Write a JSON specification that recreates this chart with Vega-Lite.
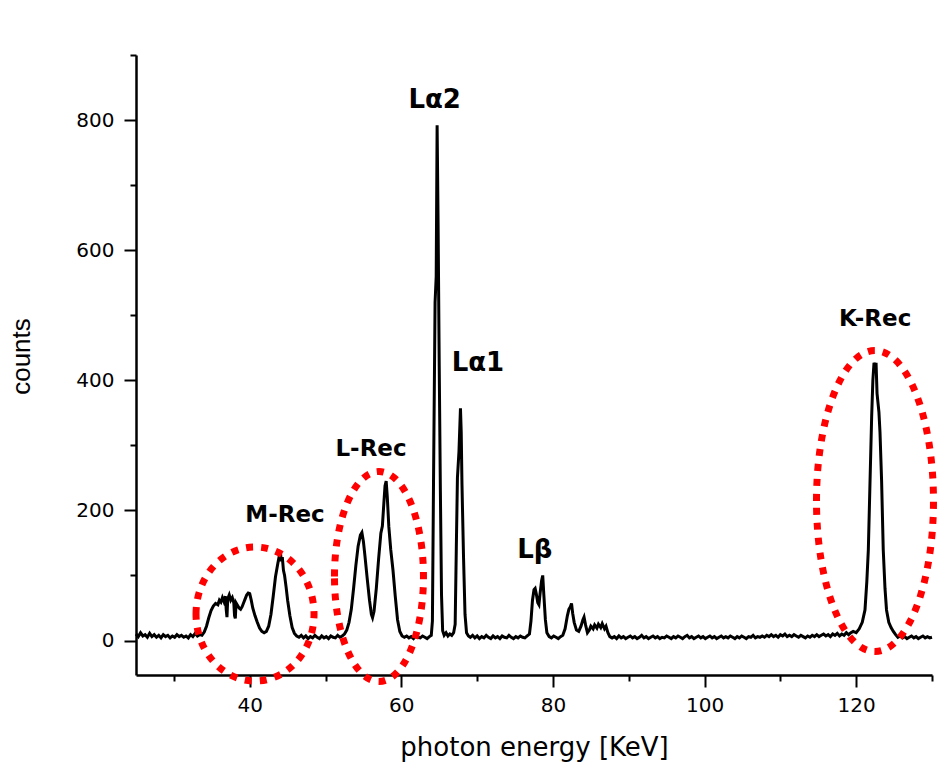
{
  "$schema": "https://vega.github.io/schema/vega-lite/v6.json",
  "width": 796,
  "height": 620,
  "autosize": {"type": "none"},
  "padding": {"left": 136, "top": 55, "right": 5, "bottom": 91},
  "background": "white",
  "config": {"view": {"stroke": null}},
  "datasets": {
    "spectrum": [
      {"x":25.0,"y":10},{"x":25.3,"y":6},{"x":25.6,"y":12},{"x":25.9,"y":7},{"x":26.2,"y":9},{"x":26.5,"y":5},{"x":26.8,"y":11},{"x":27.1,"y":6},{"x":27.4,"y":9},{"x":27.7,"y":5},{"x":28.0,"y":8},{"x":28.3,"y":4},{"x":28.6,"y":9},{"x":28.9,"y":6},{"x":29.2,"y":8},{"x":29.5,"y":4},{"x":29.8,"y":7},{"x":30.1,"y":5},{"x":30.4,"y":9},{"x":30.7,"y":6},{"x":31.0,"y":8},{"x":31.3,"y":5},{"x":31.6,"y":7},{"x":31.9,"y":4},{"x":32.2,"y":9},{"x":32.5,"y":6},{"x":32.8,"y":11},{"x":33.1,"y":7},{"x":33.4,"y":9},{"x":33.7,"y":8},{"x":34.0,"y":13},
      {"x":34.3,"y":22},{"x":34.6,"y":35},{"x":34.9,"y":46},{"x":35.2,"y":53},{"x":35.5,"y":57},{"x":35.8,"y":55},{"x":36.0,"y":62},{"x":36.2,"y":59},{"x":36.4,"y":66},{"x":36.6,"y":60},{"x":36.8,"y":68},{"x":36.9,"y":48},{"x":37.0,"y":36},{"x":37.1,"y":64},{"x":37.3,"y":70},{"x":37.5,"y":62},{"x":37.7,"y":66},{"x":37.9,"y":58},{"x":38.0,"y":38},{"x":38.1,"y":34},{"x":38.2,"y":58},{"x":38.4,"y":54},{"x":38.6,"y":50},{"x":38.8,"y":48},{"x":39.0,"y":52},{"x":39.2,"y":58},{"x":39.4,"y":64},{"x":39.6,"y":70},{"x":39.8,"y":73},{"x":40.0,"y":72},{"x":40.2,"y":62},{"x":40.4,"y":50},{"x":40.7,"y":38},{"x":41.0,"y":28},{"x":41.3,"y":19},{"x":41.6,"y":14},{"x":41.9,"y":12},{"x":42.2,"y":14},{"x":42.5,"y":22},{"x":42.8,"y":40},{"x":43.1,"y":68},{"x":43.4,"y":98},{"x":43.7,"y":118},{"x":43.9,"y":130},{"x":44.05,"y":137},{"x":44.15,"y":122},{"x":44.3,"y":128},{"x":44.45,"y":108},{"x":44.6,"y":100},{"x":44.8,"y":82},{"x":45.0,"y":62},{"x":45.3,"y":38},{"x":45.6,"y":20},{"x":45.9,"y":11},{"x":46.2,"y":7},
      {"x":46.5,"y":5},{"x":46.8,"y":8},{"x":47.1,"y":4},{"x":47.4,"y":7},{"x":47.7,"y":3},{"x":48.0,"y":6},{"x":48.3,"y":4},{"x":48.6,"y":8},{"x":48.9,"y":5},{"x":49.2,"y":3},{"x":49.5,"y":7},{"x":49.8,"y":4},{"x":50.1,"y":6},{"x":50.4,"y":3},{"x":50.7,"y":7},{"x":51.0,"y":5},{"x":51.3,"y":4},{"x":51.6,"y":8},{"x":51.9,"y":5},{"x":52.2,"y":7},{"x":52.5,"y":10},
      {"x":52.8,"y":16},{"x":53.1,"y":28},{"x":53.4,"y":48},{"x":53.7,"y":80},{"x":54.0,"y":115},{"x":54.3,"y":145},{"x":54.6,"y":162},{"x":54.8,"y":166},{"x":55.0,"y":152},{"x":55.2,"y":130},{"x":55.5,"y":95},{"x":55.8,"y":62},{"x":56.05,"y":40},{"x":56.2,"y":35},{"x":56.4,"y":45},{"x":56.7,"y":80},{"x":57.0,"y":125},{"x":57.3,"y":165},{"x":57.5,"y":176},{"x":57.7,"y":212},{"x":57.85,"y":238},{"x":58.0,"y":245},{"x":58.15,"y":220},{"x":58.35,"y":175},{"x":58.6,"y":140},{"x":58.9,"y":108},{"x":59.2,"y":68},{"x":59.5,"y":32},{"x":59.8,"y":14},{"x":60.1,"y":7},{"x":60.4,"y":5},
      {"x":60.7,"y":7},{"x":61.0,"y":4},{"x":61.3,"y":6},{"x":61.6,"y":3},{"x":61.9,"y":7},{"x":62.2,"y":5},{"x":62.5,"y":4},{"x":62.8,"y":7},{"x":63.1,"y":5},{"x":63.4,"y":3},{"x":63.7,"y":6},{"x":63.95,"y":8},
      {"x":64.1,"y":30},{"x":64.25,"y":250},{"x":64.45,"y":520},{"x":64.6,"y":560},{"x":64.72,"y":792},{"x":64.85,"y":640},{"x":65.0,"y":420},{"x":65.15,"y":230},{"x":65.3,"y":70},{"x":65.45,"y":15},{"x":65.65,"y":8},{"x":65.9,"y":12},{"x":66.15,"y":7},{"x":66.4,"y":10},{"x":66.65,"y":8},{"x":66.9,"y":12},{"x":67.1,"y":25},
      {"x":67.25,"y":140},{"x":67.4,"y":250},{"x":67.6,"y":290},{"x":67.8,"y":357},{"x":67.9,"y":320},{"x":68.0,"y":240},{"x":68.2,"y":130},{"x":68.4,"y":40},{"x":68.6,"y":12},{"x":68.85,"y":7},
      {"x":69.1,"y":5},{"x":69.4,"y":8},{"x":69.7,"y":4},{"x":70.0,"y":7},{"x":70.3,"y":3},{"x":70.6,"y":6},{"x":70.9,"y":4},{"x":71.2,"y":8},{"x":71.5,"y":5},{"x":71.8,"y":3},{"x":72.1,"y":7},{"x":72.4,"y":4},{"x":72.7,"y":6},{"x":73.0,"y":3},{"x":73.3,"y":7},{"x":73.6,"y":5},{"x":73.9,"y":4},{"x":74.2,"y":8},{"x":74.5,"y":5},{"x":74.8,"y":3},{"x":75.1,"y":6},{"x":75.4,"y":4},{"x":75.7,"y":7},{"x":76.0,"y":5},{"x":76.3,"y":4},{"x":76.6,"y":7},{"x":76.9,"y":10},
      {"x":77.1,"y":30},{"x":77.3,"y":62},{"x":77.5,"y":78},{"x":77.65,"y":80},{"x":77.8,"y":72},{"x":78.0,"y":58},{"x":78.15,"y":55},{"x":78.3,"y":72},{"x":78.5,"y":92},{"x":78.65,"y":100},{"x":78.8,"y":70},{"x":79.0,"y":32},{"x":79.2,"y":12},{"x":79.5,"y":6},{"x":79.8,"y":4},{"x":80.1,"y":7},{"x":80.4,"y":5},{"x":80.7,"y":3},{"x":81.0,"y":6},{"x":81.3,"y":8},{"x":81.6,"y":18},{"x":81.9,"y":38},{"x":82.1,"y":48},{"x":82.3,"y":52},{"x":82.45,"y":57},{"x":82.6,"y":42},{"x":82.8,"y":28},{"x":83.1,"y":16},{"x":83.4,"y":14},{"x":83.7,"y":22},{"x":83.95,"y":32},{"x":84.1,"y":36},{"x":84.3,"y":24},{"x":84.55,"y":12},{"x":84.8,"y":16},{"x":85.0,"y":22},{"x":85.3,"y":18},{"x":85.5,"y":24},{"x":85.8,"y":19},{"x":86.0,"y":25},{"x":86.3,"y":20},{"x":86.5,"y":26},{"x":86.8,"y":18},{"x":87.0,"y":22},{"x":87.25,"y":12},{"x":87.5,"y":6},{"x":87.8,"y":4},
      {"x":88.1,"y":6},{"x":88.4,"y":3},{"x":88.7,"y":7},{"x":89.0,"y":4},{"x":89.3,"y":6},{"x":89.6,"y":3},{"x":89.9,"y":5},{"x":90.2,"y":7},{"x":90.5,"y":4},{"x":90.8,"y":6},{"x":91.1,"y":3},{"x":91.4,"y":5},{"x":91.7,"y":8},{"x":92.0,"y":4},{"x":92.3,"y":6},{"x":92.6,"y":3},{"x":92.9,"y":5},{"x":93.2,"y":7},{"x":93.5,"y":4},{"x":93.8,"y":6},{"x":94.1,"y":3},{"x":94.4,"y":5},{"x":94.7,"y":4},{"x":95.0,"y":7},{"x":95.3,"y":5},{"x":95.6,"y":3},{"x":95.9,"y":6},{"x":96.2,"y":4},{"x":96.5,"y":7},{"x":96.8,"y":5},{"x":97.1,"y":3},{"x":97.4,"y":6},{"x":97.7,"y":8},{"x":98.0,"y":4},{"x":98.3,"y":6},{"x":98.6,"y":3},{"x":98.9,"y":5},{"x":99.2,"y":7},{"x":99.5,"y":4},{"x":99.8,"y":6},{"x":100.1,"y":3},{"x":100.4,"y":5},{"x":100.7,"y":7},{"x":101.0,"y":4},{"x":101.3,"y":6},{"x":101.6,"y":3},{"x":101.9,"y":5},{"x":102.2,"y":7},{"x":102.5,"y":4},{"x":102.8,"y":6},{"x":103.1,"y":4},{"x":103.4,"y":7},{"x":103.7,"y":5},{"x":104.0,"y":3},{"x":104.3,"y":6},{"x":104.6,"y":4},{"x":104.9,"y":7},{"x":105.2,"y":5},{"x":105.5,"y":3},{"x":105.8,"y":6},{"x":106.1,"y":5},{"x":106.4,"y":8},{"x":106.7,"y":4},{"x":107.0,"y":6},{"x":107.3,"y":5},{"x":107.6,"y":7},{"x":107.9,"y":5},{"x":108.2,"y":8},{"x":108.5,"y":6},{"x":108.8,"y":9},{"x":109.1,"y":6},{"x":109.4,"y":8},{"x":109.7,"y":5},{"x":110.0,"y":9},{"x":110.3,"y":7},{"x":110.6,"y":10},{"x":110.9,"y":6},{"x":111.2,"y":8},{"x":111.5,"y":6},{"x":111.8,"y":9},{"x":112.1,"y":7},{"x":112.4,"y":5},{"x":112.7,"y":8},{"x":113.0,"y":6},{"x":113.3,"y":4},{"x":113.6,"y":7},{"x":113.9,"y":5},{"x":114.2,"y":8},{"x":114.5,"y":6},{"x":114.8,"y":9},{"x":115.1,"y":6},{"x":115.4,"y":8},{"x":115.7,"y":10},{"x":116.0,"y":7},{"x":116.3,"y":9},{"x":116.6,"y":6},{"x":116.9,"y":10},{"x":117.2,"y":8},{"x":117.5,"y":11},{"x":117.8,"y":7},{"x":118.1,"y":10},{"x":118.4,"y":8},{"x":118.7,"y":12},{"x":119.0,"y":9},{"x":119.3,"y":12},
      {"x":119.6,"y":14},{"x":120.0,"y":12},{"x":120.4,"y":18},{"x":120.8,"y":28},{"x":121.16,"y":47},{"x":121.4,"y":90},{"x":121.6,"y":139},{"x":121.82,"y":242},{"x":122.04,"y":344},{"x":122.2,"y":400},{"x":122.35,"y":427},{"x":122.5,"y":420},{"x":122.62,"y":427},{"x":122.75,"y":380},{"x":123.0,"y":351},{"x":123.14,"y":320},{"x":123.35,"y":246},{"x":123.57,"y":139},{"x":123.8,"y":80},{"x":124.0,"y":47},{"x":124.3,"y":28},{"x":124.6,"y":20},{"x":124.9,"y":14},{"x":125.2,"y":9},
      {"x":125.5,"y":5},{"x":125.8,"y":7},{"x":126.1,"y":4},{"x":126.4,"y":6},{"x":126.7,"y":3},{"x":127.0,"y":5},{"x":127.3,"y":7},{"x":127.6,"y":4},{"x":127.9,"y":6},{"x":128.2,"y":3},{"x":128.5,"y":5},{"x":128.8,"y":7},{"x":129.1,"y":4},{"x":129.4,"y":6},{"x":129.7,"y":4},{"x":130.0,"y":5}
    ],
    "ellipses": [
      {"e": "M", "x": 40.7, "y": 40.7},
      {"e": "L", "x": 57.05, "y": 98.4},
      {"e": "K", "x": 122.48, "y": 214.4}
    ],
    "labels": [
      {"label": "K-Rec", "x": 122.5, "y": 483},
      {"label": "L-Rec", "x": 56.0, "y": 283},
      {"label": "M-Rec", "x": 44.66, "y": 182}
    ],
    "greek": [
      {"label": "Lα2", "x": 64.4, "y": 818},
      {"label": "Lα1", "x": 70.1, "y": 414},
      {"label": "Lβ", "x": 77.6, "y": 127}
    ]
  },
  "resolve": {"axis": {"x": "independent", "y": "independent"}},
  "layer": [
    {
      "data": {"name": "spectrum"},
      "mark": {"type": "line", "color": "black", "strokeWidth": 3, "interpolate": "linear"},
      "encoding": {
        "x": {
          "field": "x", "type": "quantitative",
          "scale": {"domain": [25, 130], "nice": false, "zero": false},
          "axis": {
            "orient": "bottom",
            "values": [40, 60, 80, 100, 120],
            "grid": false,
            "tickSize": 12, "tickWidth": 2, "tickColor": "black",
            "domainColor": "black", "domainWidth": 2.5,
            "labelFont": "DejaVu Sans", "labelFontSize": 20, "labelColor": "black", "labelPadding": 8, "labelFlush": false,
            "title": "photon energy [KeV]",
            "titleFont": "DejaVu Sans", "titleFontSize": 26, "titleFontWeight": "normal", "titleColor": "black", "titlePadding": 19
          }
        },
        "y": {
          "field": "y", "type": "quantitative",
          "scale": {"domain": [-53, 900], "nice": false, "zero": false},
          "axis": {
            "orient": "left",
            "values": [0, 200, 400, 600, 800],
            "grid": false,
            "tickSize": 12, "tickWidth": 2, "tickColor": "black",
            "domainColor": "black", "domainWidth": 2.5,
            "labelFont": "DejaVu Sans", "labelFontSize": 20, "labelColor": "black", "labelPadding": 10,
            "title": "counts",
            "titleFont": "Liberation Sans", "titleFontSize": 26, "titleFontWeight": "normal", "titleColor": "black", "titlePadding": 41, "titleY": 301
          }
        }
      }
    },
    {
      "data": {"name": "ellipses"},
      "mark": {"type": "point", "filled": false, "size": 4, "stroke": "#ff0000", "strokeWidth": 7, "strokeDash": [7, 8], "strokeCap": "butt", "opacity": 1},
      "encoding": {
        "x": {"field": "x", "type": "quantitative", "scale": {"domain": [25, 130], "nice": false, "zero": false}, "axis": null},
        "y": {"field": "y", "type": "quantitative", "scale": {"domain": [-53, 900], "nice": false, "zero": false}, "axis": null},
        "shape": {
          "field": "e", "type": "nominal", "legend": null,
          "scale": {
            "domain": ["M", "L", "K"],
            "range": [
              "M -59 0 A 59 67 0 1 1 59 0 A 59 67 0 1 1 -59 0 Z",
              "M -44.5 0 A 44.5 105 0 1 1 44.5 0 A 44.5 105 0 1 1 -44.5 0 Z",
              "M -58.5 0 A 58.5 150.5 0 1 1 58.5 0 A 58.5 150.5 0 1 1 -58.5 0 Z"
            ]
          }
        }
      }
    },
    {
      "data": {"name": "greek"},
      "mark": {"type": "text", "font": "DejaVu Sans", "fontWeight": "bold", "fontSize": 26, "color": "black", "align": "center", "baseline": "alphabetic"},
      "encoding": {
        "x": {"field": "x", "type": "quantitative", "scale": {"domain": [25, 130], "nice": false, "zero": false}, "axis": null},
        "y": {"field": "y", "type": "quantitative", "scale": {"domain": [-53, 900], "nice": false, "zero": false}, "axis": null},
        "text": {"field": "label"}
      }
    },
    {
      "data": {"name": "labels"},
      "mark": {"type": "text", "font": "DejaVu Sans", "fontWeight": "bold", "fontSize": 23, "color": "black", "align": "center", "baseline": "alphabetic"},
      "encoding": {
        "x": {
          "field": "x", "type": "quantitative",
          "scale": {"domain": [25, 130], "nice": false, "zero": false},
          "axis": {"orient": "bottom", "values": [30, 50, 70, 90, 110, 130], "grid": false, "domain": false, "labels": false, "title": null, "tickSize": 6, "tickWidth": 2, "tickColor": "black"}
        },
        "y": {
          "field": "y", "type": "quantitative",
          "scale": {"domain": [-53, 900], "nice": false, "zero": false},
          "axis": {"orient": "left", "values": [100, 300, 500, 700, 900], "grid": false, "domain": false, "labels": false, "title": null, "tickSize": 6, "tickWidth": 2, "tickColor": "black"}
        },
        "text": {"field": "label"}
      }
    }
  ]
}
